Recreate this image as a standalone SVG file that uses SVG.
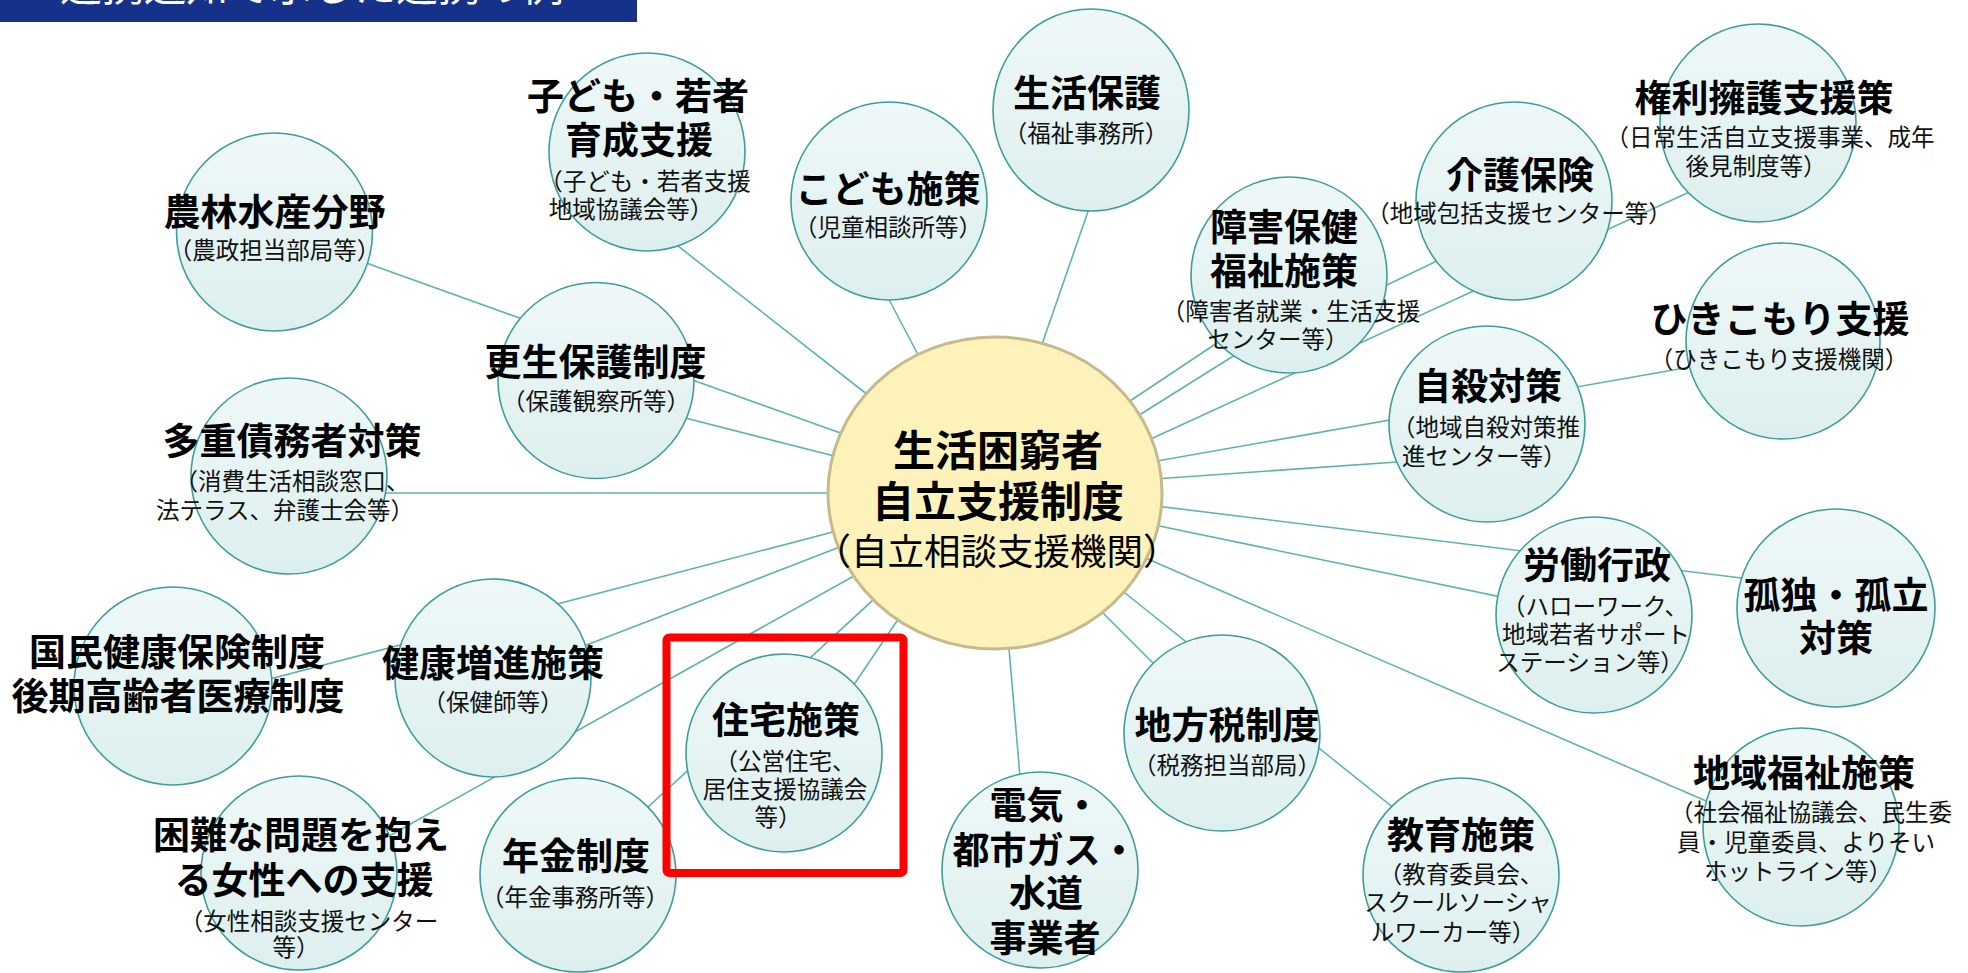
<svg xmlns="http://www.w3.org/2000/svg" width="1968" height="973" viewBox="0 0 1968 973">
<defs>
<linearGradient id="g" x1="0" y1="0" x2="0" y2="1">
<stop offset="0" stop-color="#EFF8F8"/>
<stop offset="1" stop-color="#DCEFEE"/>
</linearGradient>
<style>
.n{fill:url(#g);stroke:#3E9D9A;stroke-width:1.6}
.c line{stroke:#5DB3B0;stroke-width:1.6}
.t{font-family:"Noto Sans CJK JP","Noto Sans CJK SC",sans-serif;font-weight:700;font-size:37px;fill:#000;text-anchor:middle}
.s{font-family:"Noto Sans CJK JP","Noto Sans CJK SC",sans-serif;font-weight:400;font-size:23.5px;fill:#111;text-anchor:middle}
.sl{text-anchor:start}
.ct{font-size:42px}
.cs{font-size:36.5px;fill:#000}
</style>
</defs>
<rect width="1968" height="973" fill="#fff"/>
<g id="title">
<rect x="0" y="0" width="637" height="22" fill="#15318A"/>
<text x="60" y="1" font-family="Noto Sans CJK JP,sans-serif" font-size="42" fill="#fff">連携通知で示した連携の例</text>
</g>
<g class="c" id="connectors">
<line x1="650" y1="224" x2="880" y2="404.5"/>
<line x1="885" y1="292" x2="925" y2="368"/>
<line x1="1092" y1="200" x2="1040" y2="350"/>
<line x1="330" y1="250" x2="860" y2="440"/>
<line x1="650" y1="409" x2="850" y2="460"/>
<line x1="340" y1="493" x2="850" y2="493"/>
<line x1="220" y1="692" x2="850" y2="527.6"/>
<line x1="540" y1="663" x2="850" y2="543"/>
<line x1="330" y1="869" x2="870" y2="567"/>
<line x1="610" y1="842" x2="880" y2="593.6"/>
<line x1="820" y1="735" x2="905" y2="609"/>
<line x1="1007" y1="625" x2="1022" y2="800"/>
<line x1="1095" y1="605" x2="1190" y2="700"/>
<line x1="1100" y1="573" x2="1420" y2="829"/>
<line x1="1120" y1="547" x2="1750" y2="820"/>
<line x1="1140" y1="522" x2="1540" y2="605"/>
<line x1="1140" y1="504" x2="1790" y2="584"/>
<line x1="1140" y1="480" x2="1440" y2="459"/>
<line x1="1140" y1="464" x2="1730" y2="360"/>
<line x1="1130" y1="448.5" x2="1720" y2="178"/>
<line x1="1115" y1="411" x2="1250" y2="321"/>
<line x1="1125" y1="424" x2="1270" y2="333"/>
<line x1="1360" y1="298" x2="1470" y2="245"/>
</g>
<g id="center">
<ellipse cx="995" cy="493" rx="167" ry="156" fill="#FDF2BA" stroke="#C6BA8C" stroke-width="3"/>
<text class="t ct" x="998" y="466">生活困窮者</text>
<text class="t ct" x="998" y="517">自立支援制度</text>
<text class="s cs" x="997" y="565">（自立相談支援機関）</text>
</g>
<g id="n-kodomo-wakamono">
<ellipse class="n" cx="647" cy="152" rx="98" ry="99"/>
<text class="t" x="638" y="110">子ども・若者</text>
<text class="t" x="639" y="154">育成支援</text>
<text class="s" x="645" y="190">（子ども・若者支援</text>
<text class="s" x="631" y="218">地域協議会等）</text>
</g>
<g id="n-kodomo">
<ellipse class="n" cx="889" cy="201" rx="98" ry="99"/>
<text class="t" x="888" y="203">こども施策</text>
<text class="s" x="888" y="236">（児童相談所等）</text>
</g>
<g id="n-seikatsuhogo">
<ellipse class="n" cx="1091" cy="110" rx="98" ry="101"/>
<text class="t" x="1087" y="107">生活保護</text>
<text class="s" x="1086" y="142">（福祉事務所）</text>
</g>
<g id="n-shogai">
<ellipse class="n" cx="1289" cy="275" rx="98" ry="98"/>
<text class="t" x="1284" y="241">障害保健</text>
<text class="t" x="1284" y="285">福祉施策</text>
<text class="s" x="1291" y="320">（障害者就業・生活支援</text>
<text class="s" x="1278" y="348">センター等）</text>
</g>
<g id="n-kenri">
<ellipse class="n" cx="1758" cy="123" rx="98" ry="99"/>
<text class="t" x="1764" y="112">権利擁護支援策</text>
<text class="s" x="1770" y="146">（日常生活自立支援事業、成年</text>
<text class="s" x="1756" y="175">後見制度等）</text>
</g>
<g id="n-kaigo">
<ellipse class="n" cx="1514" cy="201" rx="98" ry="99"/>
<text class="t" x="1520" y="189">介護保険</text>
<text class="s" x="1519" y="222">（地域包括支援センター等）</text>
</g>
<g id="n-hikikomori">
<ellipse class="n" cx="1783" cy="341" rx="97" ry="98"/>
<text class="t" x="1780" y="333">ひきこもり支援</text>
<text class="s" x="1779" y="368">（ひきこもり支援機関）</text>
</g>
<g id="n-jisatsu">
<ellipse class="n" cx="1487" cy="424" rx="98" ry="98"/>
<text class="t" x="1488" y="400">自殺対策</text>
<text class="s sl" x="1392" y="436">（地域自殺対策推</text>
<text class="s sl" x="1402" y="465">進センター等）</text>
</g>
<g id="n-rodo">
<ellipse class="n" cx="1594" cy="615" rx="98" ry="98"/>
<text class="t" x="1597" y="579">労働行政</text>
<text class="s" x="1595" y="615">（ハローワーク、</text>
<text class="s" x="1596" y="643">地域若者サポート</text>
<text class="s" x="1590" y="671">ステーション等）</text>
</g>
<g id="n-kodoku">
<ellipse class="n" cx="1836" cy="608" rx="99" ry="99"/>
<text class="t" x="1836" y="609">孤独・孤立</text>
<text class="t" x="1836" y="652">対策</text>
</g>
<g id="n-chiiki-fukushi">
<ellipse class="n" cx="1801" cy="827" rx="98" ry="99"/>
<text class="t" x="1804" y="787">地域福祉施策</text>
<text class="s" x="1811" y="821">（社会福祉協議会、民生委</text>
<text class="s" x="1806" y="851">員・児童委員、よりそい</text>
<text class="s" x="1798" y="880">ホットライン等）</text>
</g>
<g id="n-kyoiku">
<ellipse class="n" cx="1461" cy="875" rx="98" ry="97"/>
<text class="t" x="1461" y="849">教育施策</text>
<text class="s" x="1461" y="883">（教育委員会、</text>
<text class="s" x="1458" y="911">スクールソーシャ</text>
<text class="s" x="1453" y="941">ルワーカー等）</text>
</g>
<g id="n-chihozei">
<ellipse class="n" cx="1222" cy="733" rx="98" ry="98"/>
<text class="t" x="1227" y="739">地方税制度</text>
<text class="s" x="1227" y="774">（税務担当部局）</text>
</g>
<g id="n-denki">
<ellipse class="n" cx="1040" cy="870" rx="98" ry="98"/>
<text class="t" x="1045" y="819">電気・</text>
<text class="t" x="1045" y="864">都市ガス・</text>
<text class="t" x="1046" y="907">水道</text>
<text class="t" x="1045" y="952">事業者</text>
</g>
<g id="n-jutaku">
<ellipse class="n" cx="784" cy="753" rx="98" ry="99"/>
<text class="t" x="786" y="734">住宅施策</text>
<text class="s" x="785" y="770">（公営住宅、</text>
<text class="s" x="785" y="798">居住支援協議会</text>
<text class="s" x="778" y="826">等）</text>
</g>
<g id="n-nenkin">
<ellipse class="n" cx="578" cy="875" rx="98" ry="97"/>
<text class="t" x="576" y="870">年金制度</text>
<text class="s" x="575" y="906">（年金事務所等）</text>
</g>
<g id="n-konnan">
<ellipse class="n" cx="299" cy="873" rx="98" ry="97"/>
<text class="t" x="301" y="849">困難な問題を抱え</text>
<text class="t" x="304" y="894">る女性への支援</text>
<text class="s" x="309" y="930">（女性相談支援センター</text>
<text class="s" x="296" y="956">等）</text>
</g>
<g id="n-kenko">
<ellipse class="n" cx="493" cy="678" rx="98" ry="99"/>
<text class="t" x="493" y="677">健康増進施策</text>
<text class="s" x="493" y="711">（保健師等）</text>
</g>
<g id="n-kokumin">
<ellipse class="n" cx="173" cy="686" rx="99" ry="99"/>
<text class="t" x="177" y="666">国民健康保険制度</text>
<text class="t" x="178" y="710">後期高齢者医療制度</text>
</g>
<g id="n-tajusaimu">
<ellipse class="n" cx="289" cy="476" rx="98" ry="98"/>
<text class="t" x="292" y="455">多重債務者対策</text>
<text class="s" x="292" y="490">（消費生活相談窓口、</text>
<text class="s" x="285" y="519">法テラス、弁護士会等）</text>
</g>
<g id="n-norin">
<ellipse class="n" cx="274.5" cy="232" rx="98" ry="99"/>
<text class="t" x="274.5" y="226">農林水産分野</text>
<text class="s" x="274.5" y="259">（農政担当部局等）</text>
</g>
<g id="n-kosei">
<ellipse class="n" cx="596" cy="380.5" rx="98" ry="98"/>
<text class="t" x="595.5" y="376">更生保護制度</text>
<text class="s" x="596" y="410">（保護観察所等）</text>
</g>
<g id="highlight">
<rect x="666.5" y="637.5" width="237" height="235.5" rx="3" fill="none" stroke="#FF0000" stroke-width="8"/>
</g>
</svg>
